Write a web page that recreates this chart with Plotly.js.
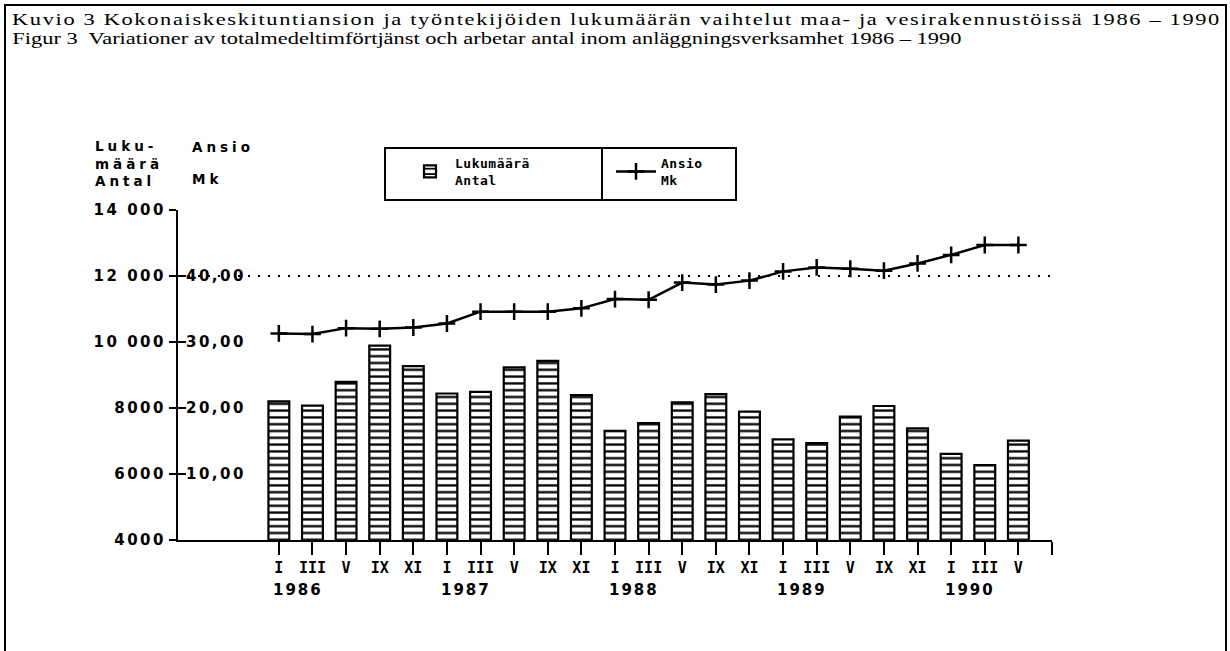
<!DOCTYPE html>
<html>
<head>
<meta charset="utf-8">
<script src="https://cdn.plot.ly/plotly-3.0.1.min.js"></script>
<style>
  html, body { margin: 0; padding: 0; background: #fff; }
  #chart { width: 1230px; height: 651px; }
  #chart g.ytick text, #chart g.y2tick text { letter-spacing: 2.5px; }
  #chart text.gtitle {
    letter-spacing: 1.25px;
    transform-box: fill-box; transform-origin: 0 50%; transform: scaleX(1.32);
  }
  #chart g.annotation[data-index="0"] text {
    transform-box: fill-box; transform-origin: 0 50%; transform: scaleX(1.32);
  }
  #chart g.annotation[data-index="1"] text,
  #chart g.annotation[data-index="2"] text,
  #chart g.annotation[data-index="3"] text { letter-spacing: 4px; }
  #chart g.annotation[data-index="4"] text,
  #chart g.annotation[data-index="5"] text,
  #chart g.annotation[data-index="6"] text,
  #chart g.annotation[data-index="7"] text,
  #chart g.annotation[data-index="8"] text { letter-spacing: 2px; }
  #chart g.legend text { letter-spacing: 0.5px; }
</style>
</head>
<body>
<div id="chart"></div>
<script>
// ---- data ----
const categories = ['I','III','V','IX','XI', 'I','III','V','IX','XI', 'I','III','V','IX','XI', 'I','III','V','IX','XI', 'I','III','V'];
const years = ['1986','1987','1988','1989','1990'];
const countValues = [8200, 8070, 8790, 9890, 9270, 8440, 8490, 9230, 9430, 8390, 7310, 7540, 8170, 8420, 7890, 7050, 6940, 7740, 8060, 7380, 6610, 6270, 7010];
const wageValues = [31.3, 31.2, 32.1, 32.0, 32.2, 32.8, 34.6, 34.6, 34.6, 35.1, 36.5, 36.4, 39.0, 38.7, 39.3, 40.7, 41.3, 41.1, 40.8, 41.9, 43.2, 44.7, 44.7];
const countTicks = [4000, 6000, 8000, 10000, 12000, 14000];
const countTickText = ['4000', '6000', '8000', '10 000', '12 000', '14 000'];
const wageTicks = [10, 20, 30, 40, 50];
const wageTickText = ['10,00', '20,00', '30,00', '40,00', '50,00'];
const wageRefLine = [40];
const titleLines = [
  'Kuvio 3 Kokonaiskeskituntiansion ja työntekijöiden lukumäärän vaihtelut maa- ja vesirakennustöissä 1986 – 1990',
  'Figur 3\u00a0 Variationer av totalmedeltimförtjänst och arbetar antal inom anläggningsverksamhet 1986 – 1990'
];
const seriesNames = ['Lukumäärä<br>Antal', 'Ansio<br>Mk'];
const axisHeads = ['Luku-<br>määrä<br>Antal', 'Ansio', 'Mk'];

// ---- layout geometry (pixels) ----
const W = 1230, H = 651;
const plotL = 178, plotR = 1052, plotT = 210, plotB = 540;
const px2x = p => (p - plotL) / (plotR - plotL);
const px2y = p => (plotB - p) / (plotB - plotT);
// centred single-line annotations get CSS letter-spacing after measuring; shift back by half of it
const spacingShift = (str, ls) => str.length * ls / 2;

const xs = categories.map((_, i) => i);
const yearPos = xs.filter(i => categories[i] === 'I');

const sansB = 'DejaVu Sans, sans-serif';
const monoB = 'DejaVu Sans Mono, monospace';
const serif = 'Liberation Serif, Times New Roman, serif';

const traces = [
  { type: 'scatter', x: [xs[0]], y: [wageRefLine[0]], yaxis: 'y3', mode: 'markers',
    marker: { opacity: 0 }, showlegend: false, hoverinfo: 'skip' },
  {
    type: 'bar', name: seriesNames[0], x: xs, y: countValues, yaxis: 'y', width: 0.62,
    marker: {
      color: '#fff',
      line: { color: '#000', width: 2.2 },
      pattern: { shape: '-', fgcolor: '#000', bgcolor: '#fff', size: 6.8, solidity: 0.34 }
    }
  },
  {
    type: 'scatter', mode: 'lines+markers', name: seriesNames[1], x: xs, y: wageValues, yaxis: 'y2',
    line: { color: '#000', width: 2.5 },
    marker: { symbol: 'cross-thin', size: 12, color: '#000', line: { color: '#000', width: 2.5 } }
  }
];

const annotations = [
  { xref: 'paper', yref: 'paper', x: px2x(10), y: px2y(38), xanchor: 'left', yanchor: 'middle',
    text: titleLines[1], showarrow: false, font: { family: serif, size: 17, color: '#000' } },
  { xref: 'paper', yref: 'paper', x: px2x(93), y: px2y(163), xanchor: 'left', yanchor: 'middle', align: 'left',
    text: '<b>' + axisHeads[0] + '</b>', showarrow: false, font: { family: sansB, size: 13.5, color: '#000' } },
  { xref: 'paper', yref: 'paper', x: px2x(190), y: px2y(147), xanchor: 'left', yanchor: 'middle',
    xshift: spacingShift(axisHeads[1], 4),
    text: '<b>' + axisHeads[1] + '</b>', showarrow: false, font: { family: sansB, size: 13.5, color: '#000' } },
  { xref: 'paper', yref: 'paper', x: px2x(190), y: px2y(179), xanchor: 'left', yanchor: 'middle',
    xshift: spacingShift(axisHeads[2], 4),
    text: '<b>' + axisHeads[2] + '</b>', showarrow: false, font: { family: sansB, size: 13.5, color: '#000' } }
].concat(yearPos.map((p, k) => ({
  xref: 'x', yref: 'paper', x: p, y: px2y(590), xanchor: 'left', yanchor: 'middle', xshift: -4,
  text: '<b>' + years[k] + '</b>', showarrow: false, font: { family: sansB, size: 15, color: '#000' }
})));

const shapes = [
  { type: 'rect', xref: 'paper', yref: 'paper', x0: px2x(5), x1: px2x(1226), y0: px2y(680), y1: px2y(5),
    line: { color: '#000', width: 2 }, fillcolor: 'rgba(0,0,0,0)' },
  { type: 'rect', xref: 'paper', yref: 'paper', x0: px2x(385), x1: px2x(736), y0: px2y(200), y1: px2y(148),
    line: { color: '#000', width: 2 }, fillcolor: 'rgba(0,0,0,0)' },
  { type: 'line', xref: 'paper', yref: 'paper', x0: px2x(602), x1: px2x(602), y0: px2y(148), y1: px2y(200),
    line: { color: '#000', width: 2 } }
];

const layout = {
  width: W, height: H,
  paper_bgcolor: '#fff', plot_bgcolor: 'rgba(0,0,0,0)',
  margin: { l: plotL, r: W - plotR, t: plotT, b: H - plotB, pad: 0 },
  title: { text: titleLines[0], xref: 'container', yref: 'container', x: 12 / W, xanchor: 'left',
           y: 1 - 19 / H, yanchor: 'middle', font: { family: serif, size: 17, color: '#000' } },
  showlegend: true,
  legend: {
    orientation: 'h', x: px2x(405), y: px2y(148), xanchor: 'left', yanchor: 'top',
    borderwidth: 0, bgcolor: 'rgba(0,0,0,0)', entrywidth: 151, itemwidth: 40,
    font: { family: monoB, size: 13, color: '#000', weight: 'bold' }, traceorder: 'normal'
  },
  xaxis: {
    range: [-3, 23], showgrid: false, zeroline: false, showline: true, linecolor: '#000', linewidth: 2,
    tickmode: 'array', tickvals: [-3].concat(xs, [23]), ticktext: [''].concat(categories, ['']),
    ticks: 'outside', ticklen: 13, tickwidth: 2, tickcolor: '#000',
    tickfont: { family: monoB, size: 15, color: '#000', weight: 'bold' }
  },
  yaxis: {
    range: [4000, 14000], showgrid: false, zeroline: false, showline: true, linecolor: '#000', linewidth: 2,
    tickmode: 'array', tickvals: countTicks, ticktext: countTickText,
    ticks: 'outside', ticklen: 7, tickwidth: 2, tickcolor: '#000',
    tickfont: { family: sansB, size: 15, color: '#000', weight: 'bold' }
  },
  yaxis2: {
    overlaying: 'y', anchor: 'x', side: 'left', range: [0, 50], showgrid: false, zeroline: false, showline: false,
    tickmode: 'array', tickvals: wageTicks, ticktext: wageTickText, ticklabelposition: 'inside',
    ticks: 'inside', ticklen: 8, tickwidth: 2, tickcolor: '#000',
    tickfont: { family: sansB, size: 15, color: '#000', weight: 'bold' }
  },
  yaxis3: {
    overlaying: 'y', anchor: 'x', side: 'left', range: [0, 50], zeroline: false, showline: false,
    tickmode: 'array', tickvals: wageRefLine, showticklabels: false, ticks: '',
    showgrid: true, gridcolor: '#000', gridwidth: 2, griddash: '2px,8px'
  },
  shapes: shapes,
  annotations: annotations
};

Plotly.newPlot('chart', traces, layout, { staticPlot: true });
</script>
</body>
</html>
